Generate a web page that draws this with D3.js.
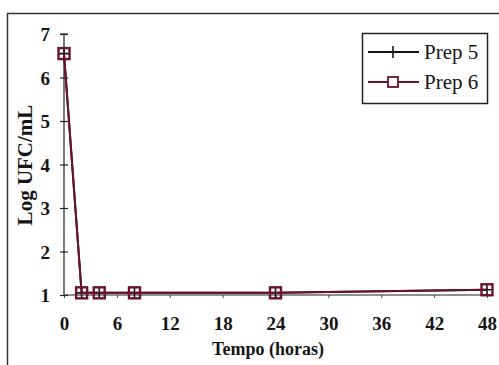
<!DOCTYPE html>
<html>
<head>
<meta charset="utf-8">
<script src="https://cdn.jsdelivr.net/npm/d3@7/dist/d3.min.js"></script>
<style>
  html, body { margin: 0; padding: 0; background: #fff; }
  svg { display: block; }
</style>
</head>
<body>
<svg id="chart" width="499" height="365"></svg>
<script>
// Sampling times (hours) and log counts for each preparation
const hours = [0, 2, 4, 8, 24, 48];
const prep5 = [6.55, 1.05, 1.05, 1.05, 1.05, 1.12];
const prep6 = [6.55, 1.05, 1.05, 1.05, 1.05, 1.12];
const seriesNames = ["Prep 5", "Prep 6"];
const xTicks = [0, 6, 12, 18, 24, 30, 36, 42, 48];
const yTicks = [1, 2, 3, 4, 5, 6, 7];

const FONT = "'Liberation Serif', Tinos, 'Times New Roman', 'DejaVu Serif', serif";
const svg = d3.select("#chart").attr("font-family", FONT);
const maroon = "#6b1232";
const ink = "#151515";

const x = d3.scaleLinear().domain([0, 48]).range([64, 487]);
const y = d3.scaleLinear().domain([1, 7]).range([295, 34]);

// outer frame (top and left edges)
svg.append("path")
  .attr("d", "M7.5,365 L7.5,13.5 L499,13.5")
  .attr("fill", "none").attr("stroke", "#333").attr("stroke-width", 1.5);

// y axis
const yAxis = svg.append("g").attr("transform", `translate(${x(0)},0)`)
  .call(d3.axisLeft(y).tickValues(yTicks).tickSize(4).tickFormat(d3.format("d")))
  .attr("font-family", FONT);
yAxis.select(".domain").attr("stroke", "#222").attr("stroke-width", 1.2).attr("d", `M0,${y(1)}V${y(7)}`);
yAxis.selectAll(".tick line").attr("x2", -4).attr("x1", 4).attr("stroke", "#222").attr("stroke-width", 1.2);
yAxis.selectAll(".tick text").attr("x", -14).attr("dy", "0.36em").attr("font-size", 19)
  .attr("font-weight", "bold").attr("fill", ink);
// top cap on the y axis
svg.append("line").attr("x1", x(0) - 4).attr("x2", x(0) + 4).attr("y1", y(7)).attr("y2", y(7))
  .attr("stroke", "#222").attr("stroke-width", 1.2);

// x axis
const xAxis = svg.append("g").attr("transform", `translate(0,${y(1)})`)
  .call(d3.axisBottom(x).tickValues(xTicks).tickSize(3).tickFormat(d3.format("d")))
  .attr("font-family", FONT);
xAxis.select(".domain").attr("stroke", "#222").attr("stroke-width", 1.2).attr("d", `M${x(0)},0H${x(48)}`);
xAxis.selectAll(".tick line").attr("stroke", "#444").attr("stroke-width", 1);
xAxis.selectAll(".tick text").attr("y", 35).attr("dy", 0).attr("font-size", 19)
  .attr("font-weight", "bold").attr("fill", ink);

// axis titles
svg.append("text").attr("x", 268).attr("y", 355).attr("text-anchor", "middle")
  .attr("font-size", 18).attr("font-weight", "bold").attr("fill", ink).text("Tempo (horas)");
svg.append("text").attr("transform", `translate(32,165) rotate(-90)`)
  .attr("text-anchor", "middle").attr("font-size", 21).attr("font-weight", "bold")
  .attr("fill", ink).text("Log UFC/mL");

const line = d3.line().x((d, i) => x(hours[i])).y(d => y(d));
function plusPath(cx, cy, r) {
  return `M${cx - r},${cy}H${cx + r}M${cx},${cy - r}V${cy + r}`;
}

// Prep 5: black line with plus markers
svg.append("path").datum(prep5).attr("d", line)
  .attr("fill", "none").attr("stroke", ink).attr("stroke-width", 2);
svg.append("g").selectAll("path").data(prep5).join("path")
  .attr("d", (d, i) => plusPath(x(hours[i]), y(d), 6))
  .attr("stroke", ink).attr("stroke-width", 1.6).attr("fill", "none");

// Prep 6: maroon line with hollow square markers
svg.append("path").datum(prep6).attr("d", line)
  .attr("fill", "none").attr("stroke", maroon).attr("stroke-width", 2);
svg.append("g").selectAll("rect").data(prep6).join("rect")
  .attr("x", (d, i) => x(hours[i]) - 5.5).attr("y", d => y(d) - 5.5)
  .attr("width", 11).attr("height", 11)
  .attr("fill", "none").attr("stroke", maroon).attr("stroke-width", 2.4);

// legend
const lg = svg.append("g");
lg.append("rect").attr("x", 362.5).attr("y", 33.5).attr("width", 125).attr("height", 70)
  .attr("fill", "#fff").attr("stroke", "#222").attr("stroke-width", 1.5);
const rowsY = [52, 82];
seriesNames.forEach((name, i) => {
  const cy = rowsY[i];
  const col = i === 0 ? ink : maroon;
  lg.append("line").attr("x1", 368).attr("x2", 419).attr("y1", cy).attr("y2", cy)
    .attr("stroke", col).attr("stroke-width", 2);
  if (i === 0) {
    lg.append("path").attr("d", plusPath(393, cy, 6)).attr("stroke", col).attr("stroke-width", 1.6);
  } else {
    lg.append("rect").attr("x", 388).attr("y", cy - 5).attr("width", 10).attr("height", 10)
      .attr("fill", "#fff").attr("stroke", col).attr("stroke-width", 1.8);
  }
  lg.append("text").attr("x", 424).attr("y", cy + 7).attr("font-size", 21)
    .attr("fill", ink).text(name);
});
</script>
</body>
</html>
